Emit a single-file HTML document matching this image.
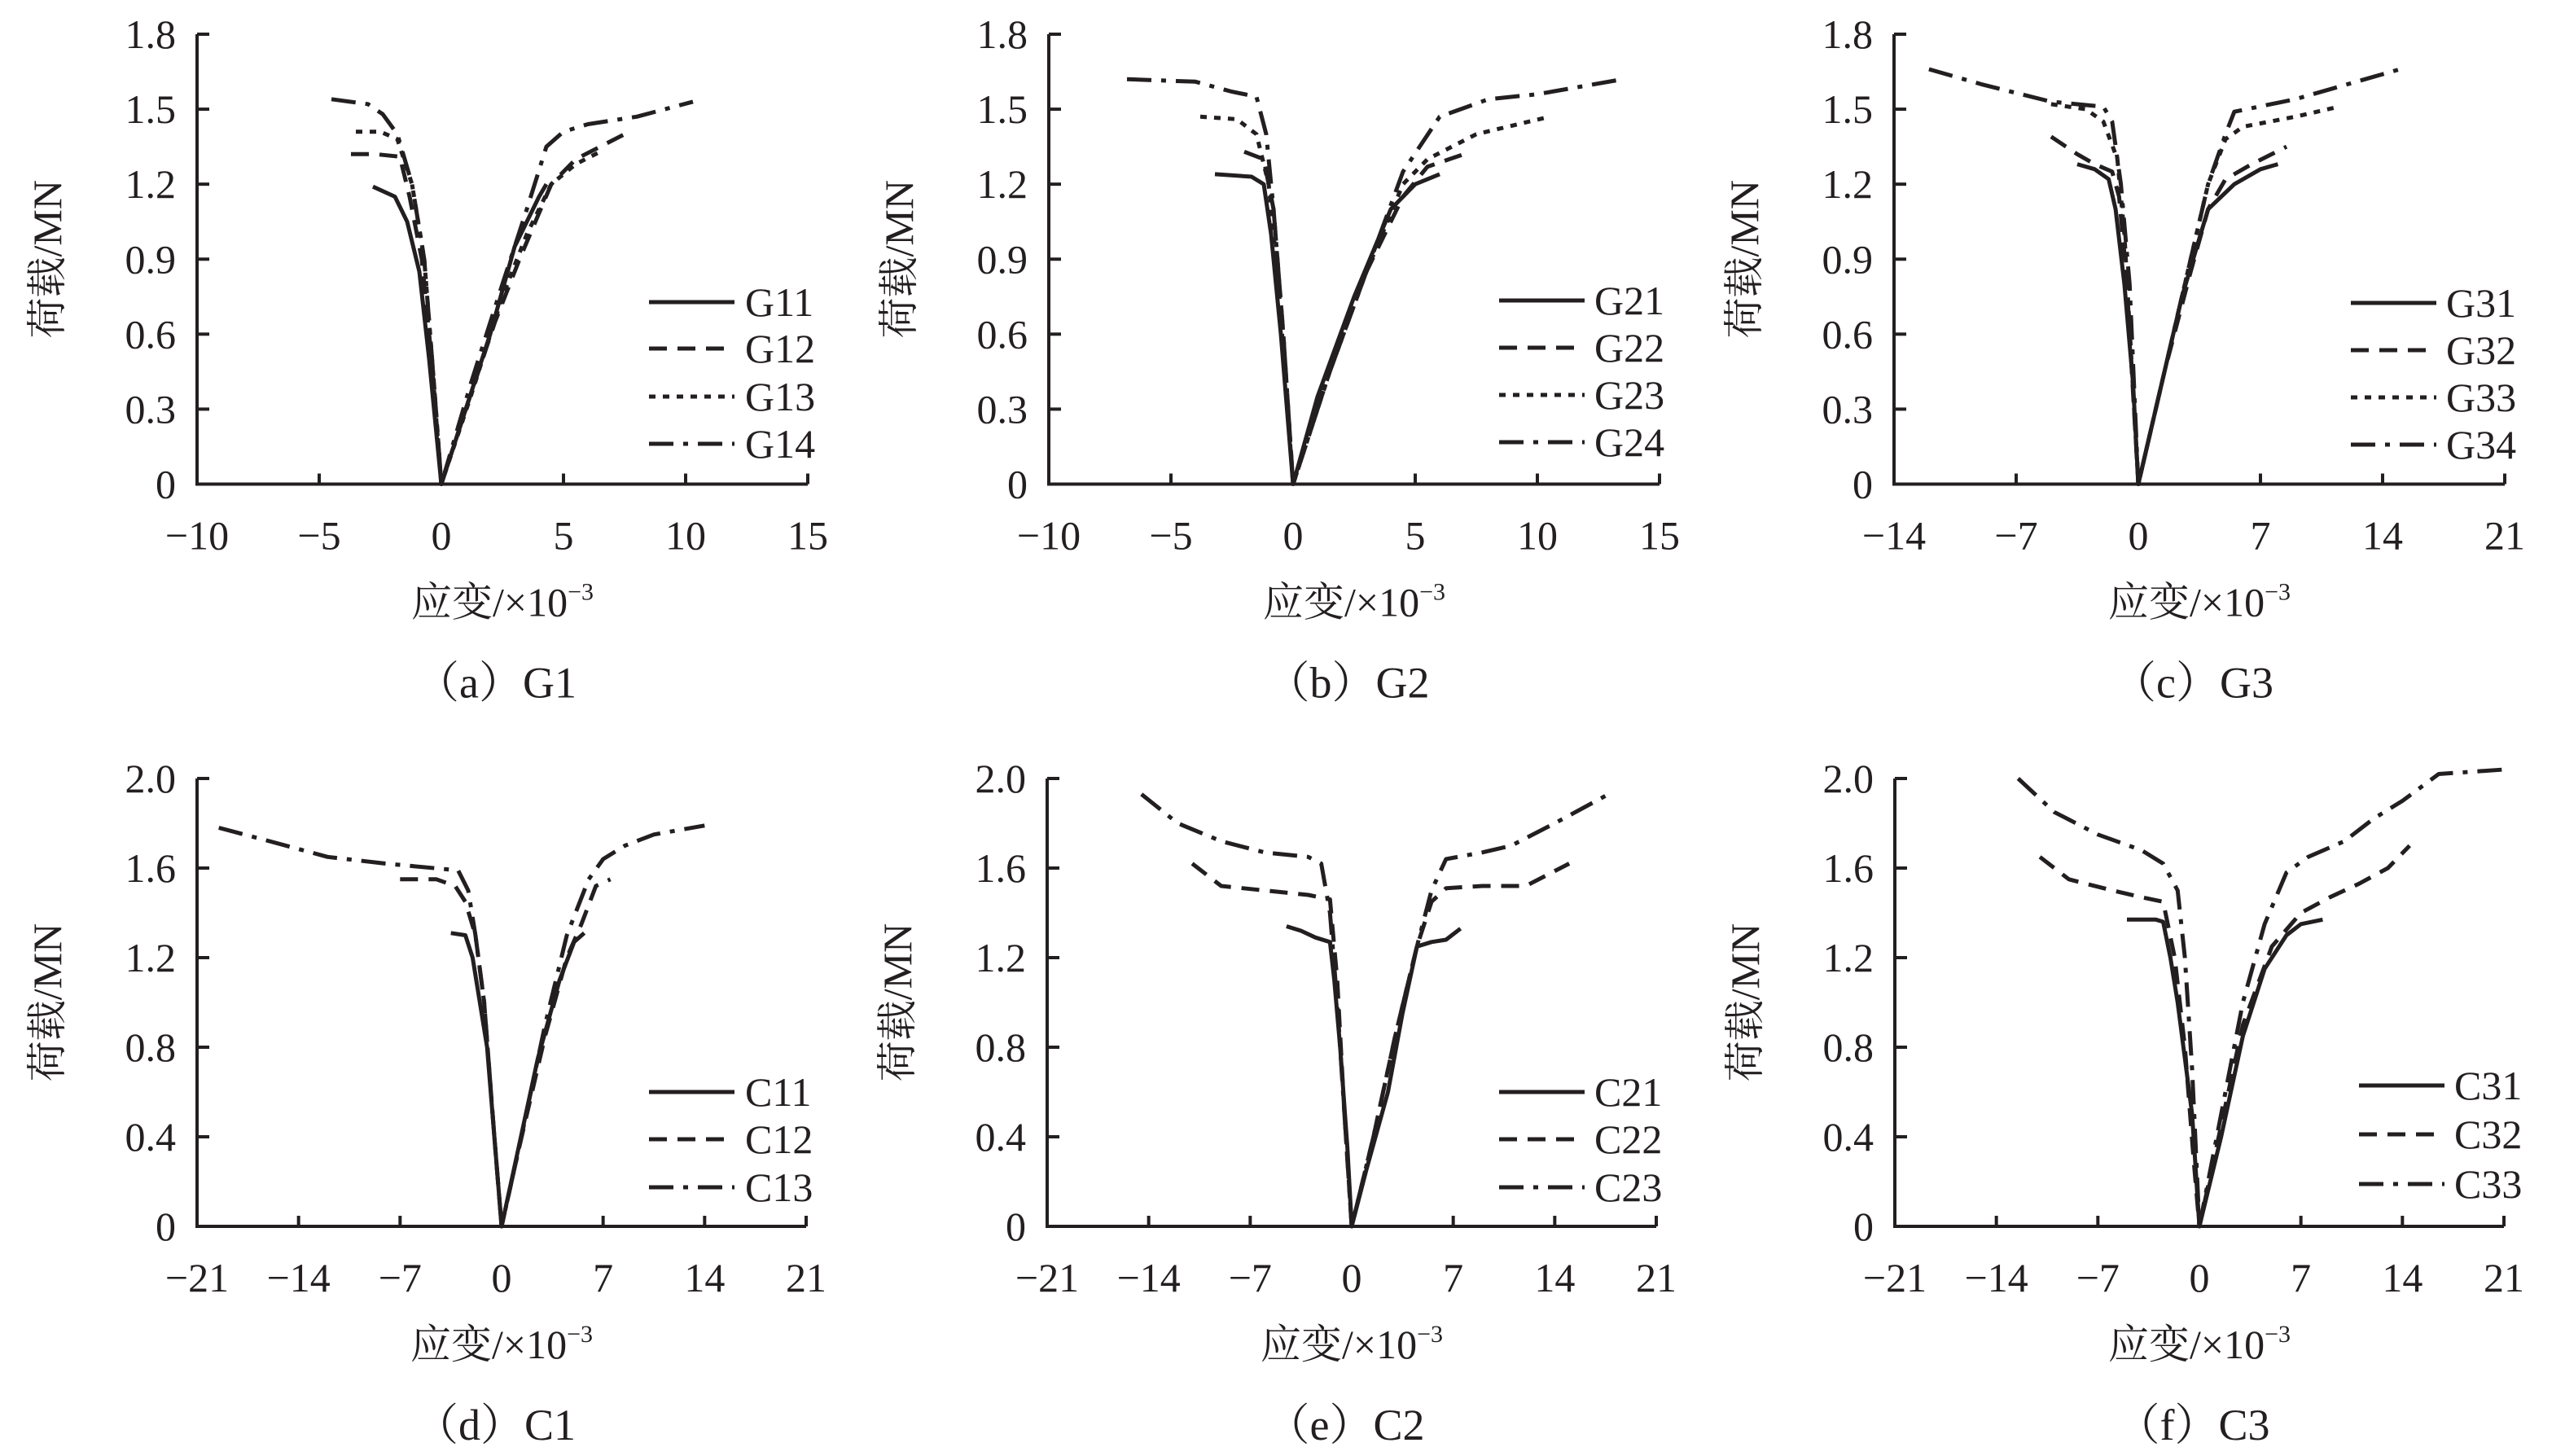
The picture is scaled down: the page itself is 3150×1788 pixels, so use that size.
<!DOCTYPE html>
<html><head><meta charset="utf-8">
<style>
html,body{margin:0;padding:0;background:#fff;}
svg{display:block;}
text{font-family:"Liberation Serif","Noto Serif CJK SC",serif;fill:#231f20;}
</style></head>
<body>
<svg id="s" width="3150" height="1788" xmlns="http://www.w3.org/2000/svg"></svg>
<script>
const S=document.getElementById('s');
const NS='http://www.w3.org/2000/svg';
function el(t,a,txt,par){const e=document.createElementNS(NS,t);for(const k in a)e.setAttribute(k,a[k]);if(txt!==undefined)e.textContent=txt;(par||S).appendChild(e);return e;}
const DASH={s:'',d:'22,13',o:'8,9',dd:'30,12,6,12'};
const panels=[
 {L:242,T:42,B:594.5,W:750,xmin:-10,xmax:15,xs:5,ymax:1.8,ys:0.3,cap:'（a）G1',leg:{lx:797,tx:915,rows:[371,428,487,545]},
  names:['G11','G12','G13','G14'],data:[
  [[-2.8,1.19],[-1.9,1.15],[-1.4,1.05],[-0.9,0.85],[-0.5,0.5],[0,0],[1,0.3],[2,0.6],[3,0.95],[4,1.15],[4.3,1.2]],
  [[-3.7,1.32],[-2.7,1.32],[-1.7,1.31],[-1.3,1.15],[-0.8,0.9],[-0.4,0.5],[0,0],[1,0.3],[2.2,0.65],[3.2,0.9],[4.5,1.2],[5.5,1.3],[7.5,1.4]],
  [[-3.5,1.41],[-2.5,1.41],[-1.8,1.38],[-1.2,1.2],[-0.7,0.9],[-0.3,0.4],[0,0],[1.2,0.35],[2.5,0.75],[3.5,1.0],[4.5,1.2],[5.5,1.28],[6.5,1.33]],
  [[-4.5,1.54],[-3,1.52],[-2.4,1.48],[-1.8,1.4],[-1.2,1.2],[-0.7,0.9],[-0.3,0.4],[0,0],[1.2,0.4],[2.5,0.8],[3.5,1.1],[4.3,1.35],[5,1.41],[6,1.44],[8,1.47],[10.3,1.53]]]},
 {L:1288,T:42,B:594.5,W:750,xmin:-10,xmax:15,xs:5,ymax:1.8,ys:0.3,cap:'（b）G2',leg:{lx:1841,tx:1958,rows:[369,427,485,543]},
  names:['G21','G22','G23','G24'],data:[
  [[-3.2,1.24],[-1.7,1.23],[-1.2,1.2],[-0.9,1.0],[-0.5,0.6],[0,0],[1,0.35],[2.5,0.75],[4,1.1],[5,1.2],[6,1.24]],
  [[-2,1.33],[-1.2,1.3],[-0.8,1.1],[-0.4,0.6],[0,0],[1.5,0.45],[3,0.85],[4.5,1.15],[5.5,1.27],[7,1.32]],
  [[-3.8,1.47],[-2.3,1.46],[-1.5,1.4],[-1,1.2],[-0.6,0.8],[0,0],[1.5,0.45],[3,0.85],[4.5,1.2],[5.5,1.3],[7.5,1.4],[10.5,1.47]],
  [[-6.8,1.62],[-4,1.61],[-2.5,1.57],[-1.5,1.55],[-1.1,1.4],[-0.8,1.1],[-0.4,0.6],[0,0],[1.5,0.45],[3,0.85],[4.5,1.25],[6,1.47],[8,1.54],[10,1.56],[13.5,1.62]]]},
 {L:2326,T:42,B:594.5,W:750,xmin:-14,xmax:21,xs:7,ymax:1.8,ys:0.3,cap:'（c）G3',leg:{lx:2887,tx:3004,rows:[372,430,488,546]},
  names:['G31','G32','G33','G34'],data:[
  [[-3.5,1.28],[-2.5,1.26],[-1.7,1.22],[-1.3,1.1],[-0.8,0.8],[-0.3,0.4],[0,0],[1,0.3],[2.5,0.75],[4,1.1],[5.5,1.2],[7,1.26],[8,1.28]],
  [[-5,1.39],[-3.5,1.32],[-2.5,1.28],[-1.5,1.25],[-1.1,1.15],[-0.7,0.85],[0,0],[1.5,0.45],[3,0.85],[4,1.1],[5,1.22],[6.5,1.28],[8.5,1.35]],
  [[-5,1.52],[-3,1.5],[-2,1.45],[-1.2,1.3],[-0.8,1.0],[0,0],[1.5,0.45],[3,0.9],[4,1.2],[5,1.38],[6,1.43],[9,1.47],[11.5,1.51]],
  [[-12,1.66],[-9,1.6],[-5,1.53],[-2,1.51],[-1.5,1.45],[-1,1.2],[-0.5,0.8],[0,0],[1.5,0.45],[3,0.9],[4,1.2],[5,1.4],[5.5,1.49],[9,1.54],[12,1.6],[15,1.66]]]},
 {L:242,T:956,B:1506,W:748,xmin:-21,xmax:21,xs:7,ymax:2.0,ys:0.4,cap:'（d）C1',leg:{lx:797,tx:915,rows:[1341,1399,1458]},
  names:['C11','C12','C13'],data:[
  [[-3.5,1.31],[-2.5,1.3],[-2,1.2],[-1.5,1.0],[-1,0.8],[-0.5,0.4],[0,0],[1,0.3],[2.5,0.75],[4,1.1],[5,1.27],[5.7,1.31]],
  [[-7,1.55],[-4.5,1.55],[-3.2,1.52],[-2.5,1.45],[-1.8,1.3],[-1.2,1.0],[-0.5,0.4],[0,0],[1.2,0.35],[3,0.85],[4.5,1.2],[5.5,1.35],[6.5,1.52],[7.5,1.55]],
  [[-19.5,1.78],[-16,1.72],[-12,1.65],[-8,1.62],[-3,1.59],[-2.3,1.5],[-1.8,1.3],[-1.2,1.0],[-0.5,0.4],[0,0],[1.2,0.35],[3,0.9],[4.5,1.3],[6,1.55],[7,1.64],[8.5,1.7],[10.5,1.75],[14,1.79]]]},
 {L:1286,T:956,B:1506,W:748,xmin:-21,xmax:21,xs:7,ymax:2.0,ys:0.4,cap:'（e）C2',leg:{lx:1841,tx:1958,rows:[1341,1399,1458]},
  names:['C21','C22','C23'],data:[
  [[-4.5,1.34],[-3.5,1.32],[-2.5,1.29],[-1.5,1.27],[-1.2,1.1],[-0.8,0.8],[-0.3,0.35],[0,0],[1,0.25],[2.5,0.6],[3.5,0.95],[4.5,1.25],[5.5,1.27],[6.5,1.28],[7.5,1.33]],
  [[-11,1.62],[-9,1.52],[-6,1.5],[-3,1.48],[-1.5,1.46],[-1,1.1],[-0.5,0.5],[0,0],[1.5,0.4],[3,0.85],[4.5,1.25],[5.5,1.45],[6.5,1.51],[9,1.52],[12,1.52],[15,1.62]],
  [[-14.5,1.93],[-12,1.8],[-9,1.72],[-6,1.67],[-3,1.65],[-2.1,1.62],[-1.5,1.4],[-1,1.0],[-0.5,0.5],[0,0],[1.5,0.4],[3,0.85],[4.5,1.25],[5.5,1.5],[6.5,1.64],[9,1.67],[11,1.7],[14,1.8],[18,1.94]]]},
 {L:2327,T:956,B:1506,W:748,xmin:-21,xmax:21,xs:7,ymax:2.0,ys:0.4,cap:'（f）C3',leg:{lx:2897,tx:3014,rows:[1333,1393,1454]},
  names:['C31','C32','C33'],data:[
  [[-5,1.37],[-3,1.37],[-2.5,1.36],[-2,1.2],[-1.5,1.0],[-0.5,0.5],[0,0],[1.5,0.4],[3,0.85],[4.5,1.15],[6,1.3],[7,1.35],[8.5,1.37]],
  [[-11,1.65],[-9,1.55],[-6,1.5],[-4,1.47],[-2.5,1.45],[-1.7,1.2],[-1,0.8],[-0.4,0.3],[0,0],[1.5,0.45],[3,0.9],[5,1.25],[7,1.4],[9,1.47],[11,1.53],[13,1.6],[14.5,1.7]],
  [[-12.5,2.0],[-10,1.85],[-7,1.75],[-4,1.68],[-2.5,1.62],[-1.5,1.5],[-1,1.2],[-0.5,0.7],[0,0],[1.5,0.5],[3,1.0],[4.5,1.35],[6,1.58],[7.5,1.65],[10,1.72],[12,1.82],[14,1.9],[16.5,2.02],[21,2.04]]]}
];
panels.forEach(p=>{
  const styles=p.data.length==4?['s','d','o','dd']:['s','d','dd'];
  const X=v=>p.L+(v-p.xmin)/(p.xmax-p.xmin)*p.W;
  const Y=v=>p.B-v/p.ymax*(p.B-p.T);
  const R=p.L+p.W;
  el('path',{d:`M${p.L},${p.T}V${p.B}H${R}`,stroke:'#231f20','stroke-width':4,fill:'none'});
  const ny=Math.round(p.ymax/p.ys);
  for(let i=0;i<=ny;i++){const v=i*p.ys,y=Y(v);
    if(i>0)el('line',{x1:p.L,y1:y,x2:p.L+15,y2:y,stroke:'#231f20','stroke-width':4});
    el('text',{x:p.L-26,y:y+17,'text-anchor':'end','font-size':50},i==0?'0':v.toFixed(1));}
  for(let v=p.xmin;v<=p.xmax+1e-6;v+=p.xs){const x=X(v);
    if(v>p.xmin)el('line',{x1:x,y1:p.B,x2:x,y2:p.B-13,stroke:'#231f20','stroke-width':4});
    el('text',{x:x,y:p.B+80,'text-anchor':'middle','font-size':50},v<0?'−'+(-v):String(v));}
  const cx=p.L+p.W/2;
  const t=el('text',{x:cx,y:p.B+162,'text-anchor':'middle','font-size':50},'应变/×10');
  el('tspan',{'font-size':30,dy:-20},'−3',t);
  el('text',{x:cx-8,y:p.B+262,'text-anchor':'middle','font-size':54},p.cap);
  const ty=(p.T+p.B)/2;
  el('text',{x:0,y:0,'text-anchor':'middle','font-size':50,transform:`translate(${p.L-167},${ty}) rotate(-90)`},'荷载/MN');
  p.data.forEach((d,i)=>{
    const st=styles[i];
    const a={points:d.map(q=>X(q[0]).toFixed(1)+','+Y(q[1]).toFixed(1)).join(' '),fill:'none',stroke:'#231f20','stroke-width':5,'stroke-linejoin':'round'};
    if(DASH[st])a['stroke-dasharray']=DASH[st];
    el('polyline',a);
    const ry=p.leg.rows[i];
    const b={x1:p.leg.lx,y1:ry,x2:p.leg.lx+105,y2:ry,stroke:'#231f20','stroke-width':5};
    if(DASH[st])b['stroke-dasharray']=DASH[st];
    el('line',b);
    el('text',{x:p.leg.tx,y:ry+17,'font-size':50},p.names[i]);
  });
});
</script>
</body></html>
